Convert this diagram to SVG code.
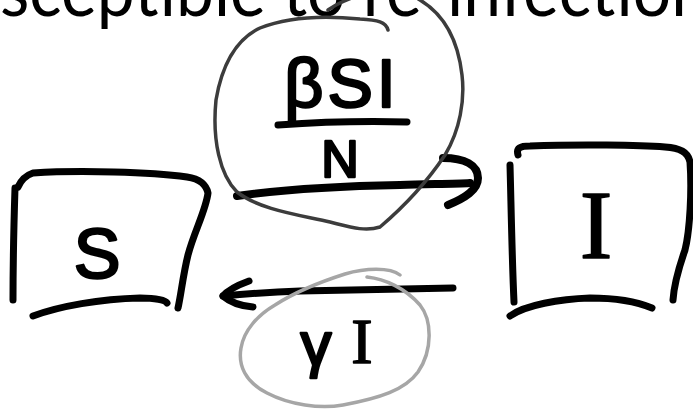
<svg xmlns="http://www.w3.org/2000/svg" width="693" height="416" viewBox="0 0 693 416">
<style>
.ink{fill:none;stroke:#000;stroke-width:7;stroke-linecap:round;stroke-linejoin:round}
.arrow{fill:none;stroke:#000;stroke-width:8;stroke-linecap:round;stroke-linejoin:round}
.ring-dark{fill:none;stroke:#3c3c3c;stroke-width:3.5;stroke-linecap:round}
.ring-light{fill:none;stroke:#a6a6a6;stroke-width:3.5;stroke-linecap:round}
.hand{font-family:"Liberation Sans","DejaVu Sans",sans-serif;fill:#000;stroke:#000;stroke-width:2.5;stroke-linejoin:round}
.hand-serif{font-family:"Liberation Serif","DejaVu Serif",serif;fill:#000;stroke:#000;stroke-width:1.5;stroke-linejoin:round}
.title{font-family:Lato,"Open Sans",sans-serif;fill:#000}
</style>
<rect width="693" height="416" fill="#fff"/>
<text class="title" x="0" y="16" font-size="73" textLength="709" lengthAdjust="spacingAndGlyphs">sceptible to re-infection</text>

<g id="node-S">
<path class="ink" d="M18 187 C22 178 27 175 33 173 C80 170 150 172 187 177 C200 179 206 184 208 193 C206 210 194 232 188 255 C183 275 181 295 178 308"/>
<path class="ink" d="M15 188 C14 220 13 260 13 300"/>
<path class="ink" d="M33 316 C60 306 100 299 140 298 C155 298 165 300 167 303"/>
<text class="hand" x="97" y="278" font-size="70" text-anchor="middle">S</text>
</g>

<g id="node-I">
<path class="ink" d="M518 155 C516 148 520 146 530 146 C580 144 640 145 665 147 C680 148 688 152 690 162 C692 190 690 230 685 250 C678 270 674 285 673 300"/>
<path class="ink" d="M510 165 C511 200 512 260 514 302"/>
<path class="ink" d="M510 316 C525 305 560 299 590 298 C620 298 640 303 652 308"/>
<text class="hand-serif" x="596" y="258" font-size="98" text-anchor="middle">I</text>
</g>

<g id="connectors">
<g id="edge-infection">
<path class="arrow" d="M237 196 C280 190 340 186 400 185 C430 184 455 184 470 183"/>
<path class="arrow" d="M443 158 C465 158 478 165 478 178 C478 190 465 198 448 205"/>
</g>
<g id="edge-recovery">
<path class="ink" d="M453 288 C400 289 330 290 300 291 C270 292 245 294 223 296"/>
<path class="ink" d="M249 281 C238 285 228 290 223 296 C230 302 240 306 253 307"/>
</g>
</g>

<g id="label-infection">
<path class="ring-dark" d="M388 30 C386 22 378 20 360 19 C330 16 290 16 260 28 C235 40 222 65 216 100 C212 140 220 175 237 192 C260 210 300 215 330 222 C350 227 365 232 380 227 C400 210 425 185 445 155 C460 130 465 100 462 75 C458 40 445 15 420 0 C405 -10 380 -12 360 -5 C345 0 335 5 328 10"/>
<text class="hand" x="342" y="107" font-size="68" text-anchor="middle" letter-spacing="4">βSI</text>
<path class="ink" stroke-width="6" d="M278 125 C320 122 370 121 407 122"/>
<text class="hand" x="340" y="177" font-size="52" text-anchor="middle">N</text>
</g>

<g id="label-recovery">
<path class="ring-light" d="M367 277 C385 279 405 288 420 305 C432 320 433 350 418 372 C405 390 380 398 343 405 C320 409 290 405 267 393 C245 382 238 365 241 348 C244 330 258 315 275 305 C295 292 320 282 345 274 C365 268 390 267 400 275"/>
<text class="hand" x="316" y="365" font-size="62" text-anchor="middle">γ</text>
<text class="hand-serif" x="362" y="363" font-size="64" text-anchor="middle">I</text>
</g>
</svg>
